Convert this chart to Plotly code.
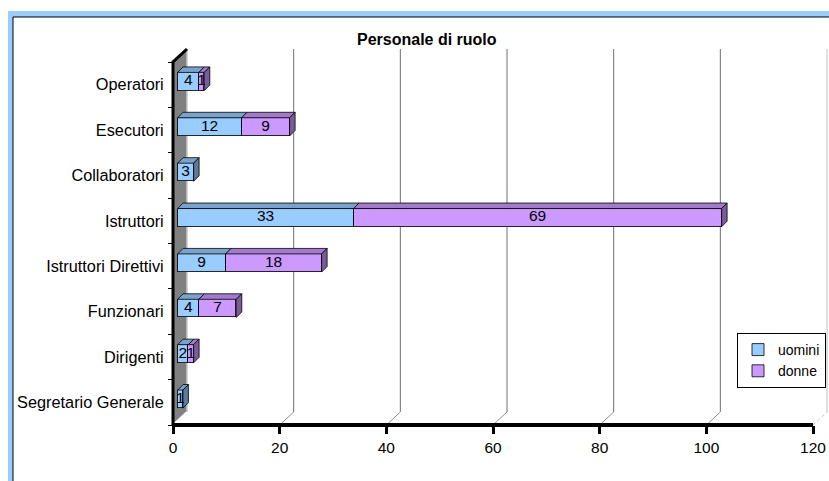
import plotly.graph_objects as go

# ---------------- data ----------------
categories = ["Segretario Generale", "Dirigenti", "Funzionari", "Istruttori Direttivi",
              "Istruttori", "Collaboratori", "Esecutori", "Operatori"]
uomini = [1, 2, 4, 9, 33, 3, 12, 4]
donne = [0, 1, 7, 18, 69, 0, 9, 1]
x_ticks = [0, 20, 40, 60, 80, 100, 120]
series_names = ["uomini", "donne"]
title_text = "Personale di ruolo"

# ---------------- styles ----------------
FONT = "Liberation Sans, Arial, sans-serif"
C_U_FRONT, C_U_TOP, C_U_SIDE = "#99CCFF", "#7AA3CC", "#5C7A99"
C_D_FRONT, C_D_TOP, C_D_SIDE = "#CC99FF", "#A37ACC", "#7A5C99"

W, H = 829, 481
L_PX, R_PX, T_PX, B_PX = 163, 829, 44, 430      # plot area in pixels
X0_PX, PX_PER_X = 173, 640 / 120                # front plane: value 0 and scale
Y0_PX, PX_PER_Y = 425, 363 / 8

def px_x(X):  # pixel -> paper x
    return (X - L_PX) / (R_PX - L_PX)

def px_y(Y):  # pixel -> paper y
    return (B_PX - Y) / (B_PX - T_PX)

xr = [(L_PX - X0_PX) / PX_PER_X, (R_PX - X0_PX) / PX_PER_X]
yr = [(Y0_PX - B_PX) / PX_PER_Y, (Y0_PX - T_PX) / PX_PER_Y]

# depth of the 3D box, bar plane offset and bar depth (converted to data units)
WDX, WDY = 14 / PX_PER_X, 13 / PX_PER_Y
BOX, BOY = 4.6 / PX_PER_X, 3.2 / PX_PER_Y
BDX, BDY = 5.5 / PX_PER_X, 5.5 / PX_PER_Y
BW = 0.4
NCAT = len(categories)
pos = [i + 0.5 for i in range(NCAT)]

fig = go.Figure()

# front faces (bars)
fig.add_trace(go.Bar(x=[v if v else None for v in uomini], y=pos, orientation="h", width=BW,
                     name=series_names[0], legendgroup="u",
                     marker=dict(color=C_U_FRONT, line=dict(color="black", width=0.8)),
                     xaxis="x2", yaxis="y2", hoverinfo="skip"))
fig.add_trace(go.Bar(x=[v if v else None for v in donne], y=pos, orientation="h", width=BW,
                     name=series_names[1], legendgroup="d",
                     marker=dict(color=C_D_FRONT, line=dict(color="black", width=0.8)),
                     xaxis="x2", yaxis="y2", hoverinfo="skip"))

# top faces and side faces computed from the data
def top_poly(bases, vals):
    xs, ys = [], []
    for p, b, v in zip(pos, bases, vals):
        if not v:
            continue
        yt = p + BW / 2
        xs += [b, b + v, b + v + BDX, b + BDX, b, None]
        ys += [yt, yt, yt + BDY, yt + BDY, yt, None]
    return xs, ys

def side_poly(mask):
    xs, ys = [], []
    for p, u, d, m in zip(pos, uomini, donne, mask):
        if not m:
            continue
        t = u + d
        y0, y1 = p - BW / 2, p + BW / 2
        xs += [t, t, t + BDX, t + BDX, t, None]
        ys += [y0, y1, y1 + BDY, y0 + BDY, y0, None]
    return xs, ys

for (xs, ys), col in [
    (top_poly([0] * NCAT, uomini), C_U_TOP),
    (top_poly(uomini, donne), C_D_TOP),
    (side_poly([d == 0 for d in donne]), C_U_SIDE),
    (side_poly([d > 0 for d in donne]), C_D_SIDE),
]:
    fig.add_trace(go.Scatter(x=xs, y=ys, mode="lines", fill="toself", fillcolor=col,
                             line=dict(color="black", width=0.8), showlegend=False,
                             hoverinfo="skip", xaxis="x2", yaxis="y2"))

# value labels
lab_x, lab_y, lab_t = [], [], []
for p, u, d in zip(pos, uomini, donne):
    if u:
        lab_x.append(u / 2); lab_y.append(p); lab_t.append(str(u))
    if d:
        lab_x.append(u + d / 2); lab_y.append(p); lab_t.append(str(d))
fig.add_trace(go.Scatter(x=lab_x, y=lab_y, text=lab_t, mode="text", showlegend=False,
                         textfont=dict(family=FONT, size=15.5, color="black"),
                         cliponaxis=False, hoverinfo="skip", xaxis="x2", yaxis="y2"))

# ---------------- decorations ----------------
shapes = []
# outer frame
shapes.append(dict(type="rect", xref="paper", yref="paper", layer="below",
                   x0=px_x(8), x1=px_x(1200), y0=px_y(11), y1=px_y(1200),
                   fillcolor="#99CCFF", line=dict(width=0)))
shapes.append(dict(type="rect", xref="paper", yref="paper", layer="below",
                   x0=px_x(13), x1=px_x(1200), y0=px_y(17), y1=px_y(1200),
                   fillcolor="white", line=dict(color="black", width=1)))
# side wall
shapes.append(dict(type="path", xref="x", yref="y", layer="below",
                   path=f"M 0,0 L 0,{NCAT} L {WDX},{NCAT + WDY} L {WDX},{WDY} Z",
                   fillcolor="#808080", line=dict(width=0)))
shapes.append(dict(type="line", xref="x", yref="y", layer="below",
                   x0=0, y0=0, x1=WDX, y1=WDY, line=dict(color="white", width=2)))
shapes.append(dict(type="line", xref="x", yref="y", layer="below",
                   x0=WDX, y0=WDY, x1=WDX, y1=NCAT + WDY, line=dict(color="#c8c8c8", width=1.5)))
shapes.append(dict(type="path", xref="x", yref="y", layer="below",
                   path=f"M 0,0 L 0,{NCAT} L {WDX},{NCAT + WDY}",
                   line=dict(color="black", width=3)))
# gridlines on the back wall + floor diagonals
for v in x_ticks:
    last = v == x_ticks[-1]
    if v != x_ticks[0]:
        shapes.append(dict(type="line", xref="x", yref="y", layer="below",
                           x0=v + WDX, y0=WDY, x1=v + WDX, y1=NCAT + WDY,
                           line=dict(color="#c0c0c0" if last else "#707070", width=1)))
        shapes.append(dict(type="line", xref="x", yref="y", layer="below",
                           x0=v, y0=0, x1=v + WDX, y1=WDY,
                           line=dict(color="#c0c0c0" if last else "#909090", width=1,
                                     dash="dot" if last else "solid")))
# x axis line
shapes.append(dict(type="line", xref="x", yref="y", layer="below",
                   x0=x_ticks[0], y0=0, x1=x_ticks[-1], y1=0,
                   line=dict(color="black", width=4)))

fig.update_layout(
    width=W, height=H,
    margin=dict(l=L_PX, r=W - R_PX, t=T_PX, b=H - B_PX, pad=0),
    paper_bgcolor="white", plot_bgcolor="rgba(0,0,0,0)",
    barmode="stack", bargap=0,
    font=dict(family=FONT, color="black"),
    showlegend=True,
    legend=dict(x=px_x(826), xanchor="right", y=px_y(333), yanchor="top",
                bgcolor="white", bordercolor="black", borderwidth=1,
                font=dict(family=FONT, size=14, color="black"),
                traceorder="normal", tracegroupgap=3, itemwidth=30),
    xaxis=dict(range=xr, tickvals=x_ticks, ticks="outside", ticklen=8, tickwidth=3,
               tickcolor="black", showgrid=False, zeroline=False, showline=False,
               tickfont=dict(family=FONT, size=15.5, color="black"),
               anchor="free", position=px_y(Y0_PX), fixedrange=True),
    yaxis=dict(range=yr, tickvals=pos, ticktext=categories, ticks="outside", ticklen=6,
               tickcolor="rgba(0,0,0,0)", showgrid=False, zeroline=False, showline=False,
               tickfont=dict(family=FONT, size=16.3, color="black"),
               minor=dict(tickmode="linear", tick0=0, dtick=1, ticks="outside", ticklen=5,
                          tickwidth=1, tickcolor="black", showgrid=False),
               anchor="free", position=px_x(X0_PX), fixedrange=True),
    xaxis2=dict(range=[xr[0] - BOX, xr[1] - BOX], overlaying="x", anchor="y2",
                visible=False, fixedrange=True),
    yaxis2=dict(range=[yr[0] - BOY, yr[1] - BOY], overlaying="y", anchor="x2",
                visible=False, fixedrange=True),
    shapes=shapes,
    annotations=[dict(xref="paper", yref="paper", x=px_x(427), y=px_y(40),
                      text=f"<b>{title_text}</b>", showarrow=False,
                      xanchor="center", yanchor="middle",
                      font=dict(family=FONT, size=16, color="black"))],
)

fig.write_html("out.html", config={"displayModeBar": False},
               post_script="document.body.style.margin='0';document.body.style.overflow='hidden';")
